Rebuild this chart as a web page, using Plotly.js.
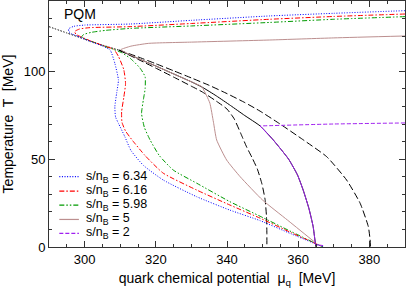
<!DOCTYPE html>
<html>
<head>
<meta charset="utf-8">
<script src="https://cdn.plot.ly/plotly-3.0.1.min.js"></script>
<style>html,body{margin:0;padding:0;background:#fff;}#chart{width:407px;height:288px;}</style>
</head>
<body>
<div id="chart"></div>
<script>
// ---- data (mu_q in MeV, T in MeV) ----
var crossoverMu = [290, 295, 300, 305, 309.7];
var crossoverT  = [125.4, 121.8, 118.3, 114.9, 112.0];

var firstOrderMu = [309.7, 315, 320, 325, 330, 333, 337, 341, 345, 349.3, 353, 357.3, 359.8, 361.4, 363, 364.2, 364.7, 365];
var firstOrderT  = [112.0, 107.3, 103, 98.5, 94, 91, 86, 80.5, 74.8, 68.9, 60.9, 50, 41, 32.4, 22, 11.6, 4, 0];

var spinUpperMu = [309.7, 315, 320, 325, 330, 335, 340, 345, 349.3, 354.9, 361.4, 368, 373.6, 377.4, 379.7, 380.2, 380.3];
var spinUpperT  = [112.0, 108.2, 104.3, 100.3, 96.2, 92, 87.3, 82.2, 77.3, 70, 61, 51.4, 38.1, 24.9, 11.6, 4, 0];

var spinLowerMu = [309.7, 315, 320, 325, 330, 333, 337, 340, 342, 344, 345.5, 347, 348.5, 349.8, 350.7, 351.1, 351.2, 351.2];
var spinLowerT  = [112.0, 106.8, 101.8, 96.7, 91.5, 88.3, 83, 78.5, 73, 64, 57, 51, 44.5, 36, 27, 17, 8, 0];

var isoLabels = ["s/n<sub>B</sub> = 6.34", "s/n<sub>B</sub> = 6.16", "s/n<sub>B</sub> = 5.98", "s/n<sub>B</sub> = 5", "s/n<sub>B</sub> = 2"];

var iso634Mu = [390, 370, 352, 330, 312.8, 300, 297, 295.6, 295.5, 296.5, 298, 301.5, 305, 307.2, 308.5, 309.5, 309, 308.5, 308.7, 309.5, 311.3, 313, 316.5, 322.1, 331.5, 340.8, 349.3, 358, 367];
var iso634T  = [134.5, 133, 131.5, 129, 126.9, 126.3, 125.6, 124.3, 122.8, 121.2, 120, 117, 114.4, 112, 104.5, 95, 87.5, 79.8, 74, 70.4, 62.8, 55, 46.5, 38.1, 28.6, 21, 15, 7.5, 0];

var iso616Mu = [390, 370, 352, 330, 312.8, 301.2, 298.5, 297.2, 297.6, 299, 302, 305.5, 308.2, 309.5, 311, 311.5, 311, 310.4, 310.5, 311.5, 313.5, 317, 322.1, 331.5, 340.8, 349.3, 358, 367];
var iso616T  = [132.6, 131.2, 129.6, 127.2, 125.4, 124.8, 124, 122.6, 121, 119.6, 117, 114.4, 112.5, 108.5, 101, 93, 85, 77, 71, 66, 60.5, 52, 42, 32.4, 23.9, 16.4, 8.2, 0];

var iso598Mu = [390, 370, 352, 330, 312.8, 306, 302, 299.8, 299.2, 300, 302, 305, 308, 310.5, 312.8, 315.5, 317, 317, 316.5, 316, 316.8, 318.4, 321, 324.9, 331.5, 340.8, 349.3, 358, 367];
var iso598T  = [131.1, 129.6, 127.8, 125.8, 124.4, 123.3, 122.2, 121, 119.8, 118.4, 116.9, 114.6, 112.6, 110.5, 107.4, 102, 96.9, 90, 83.7, 76, 68, 60.9, 52, 43.8, 36.3, 25.8, 17.5, 8.8, 0];

var iso5Mu = [390, 370, 352, 330, 318, 313, 310.2, 311, 315, 320, 325, 330, 332.9, 334.3, 335.2, 336.2, 337.1, 339.9, 343.7, 350, 357, 364.5];
var iso5T  = [120.1, 119, 117.8, 116.6, 115.9, 114.3, 112.3, 111.2, 107.3, 103, 98.5, 94, 91.2, 86, 81.8, 71, 60.9, 49.5, 40, 26.7, 15.3, 3];

var iso2DashMu = [390, 370, 349.3];
var iso2DashT  = [70.6, 70, 68.9];
var iso2SolidMu = [349.3, 353, 357.3, 359.8, 361.4, 363, 364.2, 364.7, 364.9, 366, 367];
var iso2SolidT  = [68.9, 60.9, 50, 41, 32.4, 22, 11.6, 4, 1.4, 1.1, 0.8];

var xTicks = [300, 320, 340, 360, 380];
var yTicks = [0, 50, 100];

// ---- styles ----
var colors = ["#0000ff", "#ff0000", "#009a00", "#bc8f8f", "#a020f0"];
var dashes = ["1px,1.6px", "5px,2px,1.5px,2px", "5px,2px,1.5px,2px,1.5px,2px", "solid", "4px,2px"];

function tr(x, y, color, dash, w, sm) {
  return {x: x, y: y, type: "scatter", mode: "lines", showlegend: false, hoverinfo: "skip",
          line: {color: color, dash: dash, width: w || 1, shape: "spline", smoothing: (sm === undefined ? 0.5 : sm)}};
}

var data = [
  tr(crossoverMu, crossoverT, "#000", "1.5px,1.5px"),
  tr(spinUpperMu, spinUpperT, "#000", "7px,3px"),
  tr(spinLowerMu, spinLowerT, "#000", "7px,3px"),
  tr(firstOrderMu, firstOrderT, "#000", "solid"),
  tr(iso5Mu, iso5T, colors[3], dashes[3]),
  tr(iso598Mu, iso598T, colors[2], dashes[2]),
  tr(iso616Mu, iso616T, colors[1], dashes[1]),
  tr(iso634Mu, iso634T, colors[0], dashes[0]),
  tr(iso2DashMu, iso2DashT, colors[4], dashes[4]),
  tr(iso2SolidMu, iso2SolidT, colors[4], "solid")
];

// legend built as layout decoration
var shapes = [], annotations = [];
var legY = [0.286, 0.227, 0.170, 0.112, 0.055];
for (var i = 0; i < isoLabels.length; i++) {
  shapes.push({type: "line", xref: "paper", yref: "paper", x0: 0.029, x1: 0.084, y0: legY[i], y1: legY[i],
               line: {color: colors[i], width: 1.2, dash: dashes[i]}});
  annotations.push({xref: "paper", yref: "paper", x: 0.098, y: legY[i], xanchor: "left", yanchor: "middle",
                    text: isoLabels[i], showarrow: false, font: {size: 12.5, color: "#000"}});
}
annotations.push({xref: "paper", yref: "paper", x: 0.036, y: 0.948, xanchor: "left", yanchor: "middle",
                  text: "PQM", showarrow: false, font: {size: 14, color: "#000"}});

var axisCommon = {
  showline: true, linecolor: "#333", linewidth: 1, mirror: "allticks",
  ticks: "inside", ticklen: 6, tickcolor: "#333", tickwidth: 1,
  showgrid: false, zeroline: false,
  tickfont: {size: 13, color: "#000"}
};

var layout = {
  width: 407, height: 288,
  margin: {l: 49, r: 2, t: 1, b: 41},
  paper_bgcolor: "#fff", plot_bgcolor: "#fff",
  font: {family: "Liberation Sans, Arial, sans-serif", color: "#000"},
  showlegend: false,
  xaxis: Object.assign({}, axisCommon, {
    range: [290, 390], tickvals: xTicks, ticktext: xTicks.map(String),
    minor: {dtick: 5, tick0: 290, ticks: "inside", ticklen: 3, tickcolor: "#333"},
    title: {text: "quark chemical potential  \u03bc<sub>q</sub>  [MeV]", font: {size: 14}, standoff: 11}
  }),
  yaxis: Object.assign({}, axisCommon, {
    range: [0, 140], tickvals: yTicks, ticktext: yTicks.map(String),
    minor: {dtick: 10, tick0: 0, ticks: "inside", ticklen: 3, tickcolor: "#333"},
    title: {text: "Temperature  T  [MeV]", font: {size: 14}, standoff: 6}
  }),
  shapes: shapes,
  annotations: annotations
};

Plotly.newPlot("chart", data, layout, {staticPlot: true, displayModeBar: false});
</script>
</body>
</html>
